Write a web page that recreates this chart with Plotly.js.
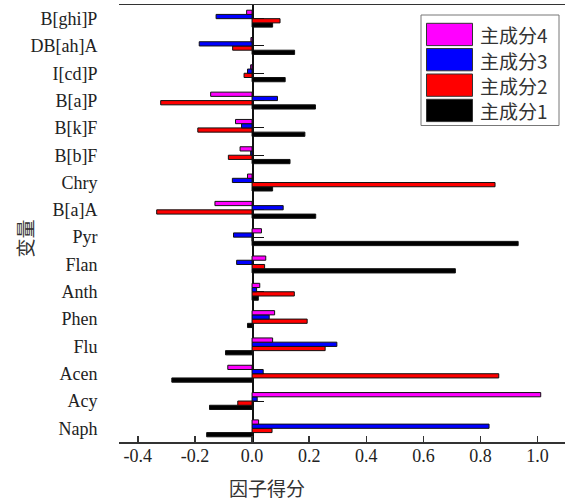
<!DOCTYPE html>
<html>
<head>
<meta charset="utf-8">
<script src="https://cdn.plot.ly/plotly-3.0.1.min.js"></script>
<style>html,body{margin:0;padding:0;background:#fff;}#chart{width:565px;height:501px;}</style>
</head>
<body>
<div id="chart"></div>
<script>
// Categories from bottom to top
const categories = ['Naph','Acy','Acen','Flu','Phen','Anth','Flan','Pyr','B[a]A','Chry','B[b]F','B[k]F','B[a]P','I[cd]P','DB[ah]A','B[ghi]P'];
const seriesNames = ['主成分1','主成分2','主成分3','主成分4'];
const pc1 = [-0.159,-0.149,-0.281,-0.093,-0.016,0.022,0.712,0.932,0.223,0.072,0.133,0.185,0.222,0.116,0.149,0.072];
const pc2 = [0.070,-0.050,0.864,0.256,0.193,0.148,0.044,0.0,-0.334,0.851,-0.083,-0.190,-0.320,-0.028,-0.068,0.098];
const pc3 = [0.830,0.018,0.039,0.297,0.060,0.016,-0.054,-0.065,0.109,-0.069,-0.005,-0.037,0.089,-0.016,-0.185,-0.126];
const pc4 = [0.023,1.011,-0.085,0.072,0.079,0.027,0.048,0.033,-0.130,-0.016,-0.042,-0.058,-0.145,-0.005,-0.004,-0.019];
const xTickVals = [-0.4,-0.2,0.0,0.2,0.4,0.6,0.8,1.0];
const xTickText = ['-0.4','-0.2','0.0','0.2','0.4','0.6','0.8','1.0'];
const xTitle = '因子得分';
const yTitle = '变量';

const seriesValues = [pc1, pc2, pc3, pc4];
const colors = ['#000000','#ff0000','#0000ff','#ff00ff'];

const W = 565, H = 501;
const M = {l:119, r:0, t:5, b:59};
const PW = W - M.l - M.r, PH = H - M.t - M.b;
const xRange = [-0.466, 1.096];
const px2x = p => (p - M.l) / PW;
const py2y = p => (H - M.b - p) / PH;

const serif = 'Liberation Serif, Times New Roman, Noto Sans CJK SC, serif';
const cjk = 'Noto Sans CJK SC, sans-serif';
const txt = '#222';

const traces = seriesValues.map((vals, i) => ({
  type: 'bar', orientation: 'h',
  name: seriesNames[i],
  x: vals, y: categories,
  marker: {color: colors[i], line: {color: '#111', width: 1}},
  showlegend: false, hoverinfo: 'x+y'
}));
// invisible helper trace for the zero-positioned y axis (ticks at category centres)
traces.push({
  type: 'scatter', mode: 'markers', x: categories.map(() => 0), y: categories,
  yaxis: 'y2', marker: {opacity: 0}, showlegend: false, hoverinfo: 'skip'
});

const shapes = [];
const annotations = [];
// custom legend
shapes.push({type:'rect', xref:'paper', yref:'paper', x0:px2x(421), x1:px2x(559), y0:py2y(125.5), y1:py2y(15),
  line:{color:'#777', width:1}, fillcolor:'#fff', layer:'above'});
const rowTops = [23.3, 48.5, 74, 99.3];
for (let k = 0; k < 4; k++) {
  const i = 3 - k;
  const top = rowTops[k];
  shapes.push({type:'rect', xref:'paper', yref:'paper', x0:px2x(426.5), x1:px2x(472.5), y0:py2y(top+22.3), y1:py2y(top),
    line:{color:'#333', width:1}, fillcolor:colors[i], layer:'above'});
  annotations.push({xref:'paper', yref:'paper', x:px2x(478), y:py2y(top+11.5), xanchor:'left', yanchor:'middle',
    text:seriesNames[i], showarrow:false, font:{family:cjk, size:19, color:'#333'}});
}
annotations.push({xref:'paper', yref:'paper', x:px2x(266.5), y:py2y(487.5), xanchor:'center', yanchor:'middle',
  text:xTitle, showarrow:false, font:{family:cjk, size:19, color:'#333'}});
annotations.push({xref:'paper', yref:'paper', x:px2x(23.5), y:py2y(239), xanchor:'center', yanchor:'middle',
  text:yTitle, textangle:-90, showarrow:false, font:{family:cjk, size:19, color:'#333'}});

const zeroPos = (0 - xRange[0]) / (xRange[1] - xRange[0]);

const layout = {
  width: W, height: H,
  margin: M,
  paper_bgcolor: '#fff', plot_bgcolor: '#fff',
  barmode: 'group', bargap: 0.38, bargroupgap: 0,
  showlegend: false,
  font: {family: serif, size: 18, color: txt},
  xaxis: {
    range: xRange, tickvals: xTickVals, ticktext: xTickText,
    ticks: 'inside', ticklen: 6, tickwidth: 1.5, tickcolor: '#333',
    showline: true, linecolor: '#333', linewidth: 1.5, mirror: true,
    showgrid: false, zeroline: false, ticklabelstandoff: -3,
    tickfont: {family: serif, size: 18, color: txt}
  },
  yaxis: {
    type: 'category', categoryorder: 'array', categoryarray: categories,
    range: [-0.5, categories.length - 0.5],
    showline: false, showgrid: false, zeroline: false,
    ticks: 'outside', ticklen: 17, tickcolor: 'rgba(0,0,0,0)',
    tickfont: {family: serif, size: 18, color: txt}
  },
  yaxis2: {
    type: 'category', categoryorder: 'array', categoryarray: categories,
    range: [-0.5, categories.length - 0.5],
    overlaying: 'y', anchor: 'free', position: zeroPos, side: 'left',
    showline: true, linecolor: '#111', linewidth: 1.5,
    ticks: 'inside', ticklen: 10, tickwidth: 1, tickcolor: '#111',
    showticklabels: false, showgrid: false, zeroline: false,
    layer: 'below traces'
  },
  shapes: shapes,
  annotations: annotations
};

Plotly.newPlot('chart', traces, layout, {displayModeBar: false, staticPlot: true});
</script>
</body>
</html>
